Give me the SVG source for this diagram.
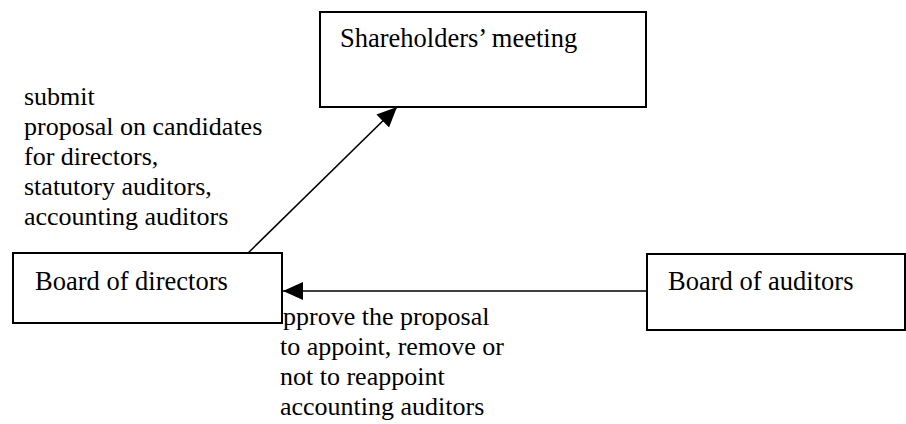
<svg xmlns="http://www.w3.org/2000/svg" width="906" height="424" viewBox="0 0 906 424">
  <style>
    .box { fill: #ffffff; stroke: #000000; stroke-width: 2; }
    .lbl { font-family: 'Liberation Serif', 'Times New Roman', serif; font-size: 26.5px; fill: #000000; }
    .note { font-family: 'Liberation Serif', 'Times New Roman', serif; font-size: 26px; fill: #000000; }
    .edge { stroke: #000000; stroke-width: 1.6; fill: none; }
  </style>
  <defs>
    <marker id="arrow" markerUnits="userSpaceOnUse" markerWidth="22" markerHeight="20" refX="20" refY="9" orient="auto">
      <path d="M0,0 L20,9 L0,18 Z" fill="#000000"/>
    </marker>
  </defs>
  <rect width="906" height="424" fill="#ffffff"/>

  <!-- connectors -->
  <g id="connectors">
    <line class="edge" x1="243" y1="258" x2="397" y2="107" marker-end="url(#arrow)"/>
    <line class="edge" x1="647" y1="291" x2="283" y2="291" marker-end="url(#arrow)"/>
  </g>

  <!-- edge annotations -->
  <g id="submit-note">
    <text class="note" x="24" y="105">submit</text>
    <text class="note" x="24" y="135">proposal on candidates</text>
    <text class="note" x="24" y="165">for directors,</text>
    <text class="note" x="24" y="195">statutory auditors,</text>
    <text class="note" x="24" y="225">accounting auditors</text>
  </g>
  <g id="approve-note">
    <text class="note" x="283" y="325">pprove the proposal</text>
    <text class="note" x="280" y="355">to appoint, remove or</text>
    <text class="note" x="280" y="385">not to reappoint</text>
    <text class="note" x="280" y="415">accounting auditors</text>
  </g>

  <!-- nodes -->
  <g id="shareholders-meeting">
    <rect class="box" x="320" y="12" width="326" height="95"/>
    <text class="lbl" x="340" y="47">Shareholders’ meeting</text>
  </g>
  <g id="board-of-directors">
    <rect class="box" x="13" y="253" width="269" height="70"/>
    <text class="lbl" x="35" y="290">Board of directors</text>
  </g>
  <g id="board-of-auditors">
    <rect class="box" x="647" y="254" width="258" height="76"/>
    <text class="lbl" x="668" y="290">Board of auditors</text>
  </g>
</svg>
